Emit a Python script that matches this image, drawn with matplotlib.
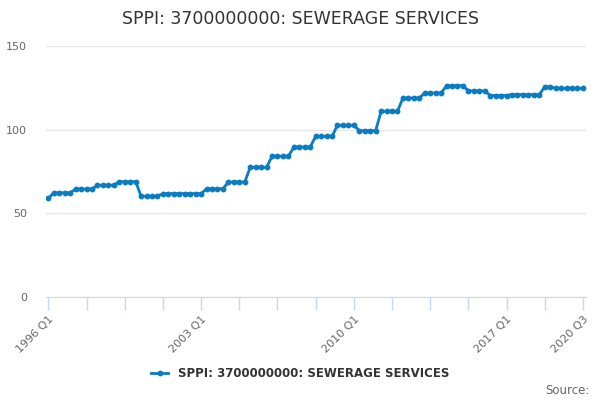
import matplotlib.pyplot as plt

# quarterly index values, 1996 Q1 .. 2020 Q3
values = (
    [59.0]
    + [62.3] * 4
    + [64.5] * 4
    + [66.8] * 4
    + [68.9] * 4
    + [60.2] * 4
    + [61.8] * 8
    + [64.7] * 4
    + [68.7] * 4
    + [77.5] * 4
    + [84.1] * 4
    + [89.6] * 4
    + [96.0] * 4
    + [102.6] * 4
    + [99.4] * 4
    + [111.0] * 4
    + [118.9] * 4
    + [121.9] * 4
    + [126.3] * 4
    + [123.2] * 4
    + [120.4] * 4
    + [121.0] * 6
    + [125.6] * 2
    + [124.7] * 6
)
quarters = [f"{1996 + i // 4} Q{i % 4 + 1}" for i in range(len(values))]
label_quarters = ["1996 Q1", "2003 Q1", "2010 Q1", "2017 Q1", "2020 Q3"]
y_ticks = [0, 50, 100, 150]
series_name = "SPPI: 3700000000: SEWERAGE SERVICES"

line_color = "#0a7cc1"
axis_color = "#ccd6eb"
grid_color = "#e6e6e6"
text_gray = "#666666"

fig = plt.figure(figsize=(6, 4), dpi=100)
ax = fig.add_axes([0.077, 0.2575, 0.9, 0.6275])

x = list(range(len(values)))
ax.plot(x, values, color=line_color, lw=2, marker="o", ms=3.2, label=series_name)

ax.set_xlim(-0.4, len(values) - 0.4)
ax.set_ylim(0, 150)
ax.set_yticks(y_ticks)
ax.set_yticklabels([str(v) for v in y_ticks], color=text_gray, fontsize=8)
ax.tick_params(axis="y", length=0, pad=14)
ax.grid(axis="y", color=grid_color, lw=1)
ax.set_axisbelow(True)

# minor ticks every 7 quarters, labels every 28 quarters
ax.set_xticks(list(range(0, len(values), 7)))
ax.set_xticklabels([q if q in label_quarters else "" for q in quarters[::7]],
                   rotation=45, ha="right", va="top", rotation_mode="anchor",
                   color=text_gray, fontsize=8)
ax.tick_params(axis="x", length=9, width=1, color=axis_color, pad=3)

for side in ["top", "right", "left"]:
    ax.spines[side].set_visible(False)
ax.spines["bottom"].set_color(axis_color)

fig.suptitle(series_name, y=0.975, fontsize=12.5, color="#333333")
leg = fig.legend(loc="center", bbox_to_anchor=(0.5, 0.067), frameon=False,
                 prop={"weight": "bold", "size": 8.5}, handlelength=1.5)
for t in leg.get_texts():
    t.set_color("#333333")
fig.text(0.982, 0.025, "Source:", ha="right", va="center", fontsize=8.5, color=text_gray)

fig.savefig("out.png", dpi=100)
